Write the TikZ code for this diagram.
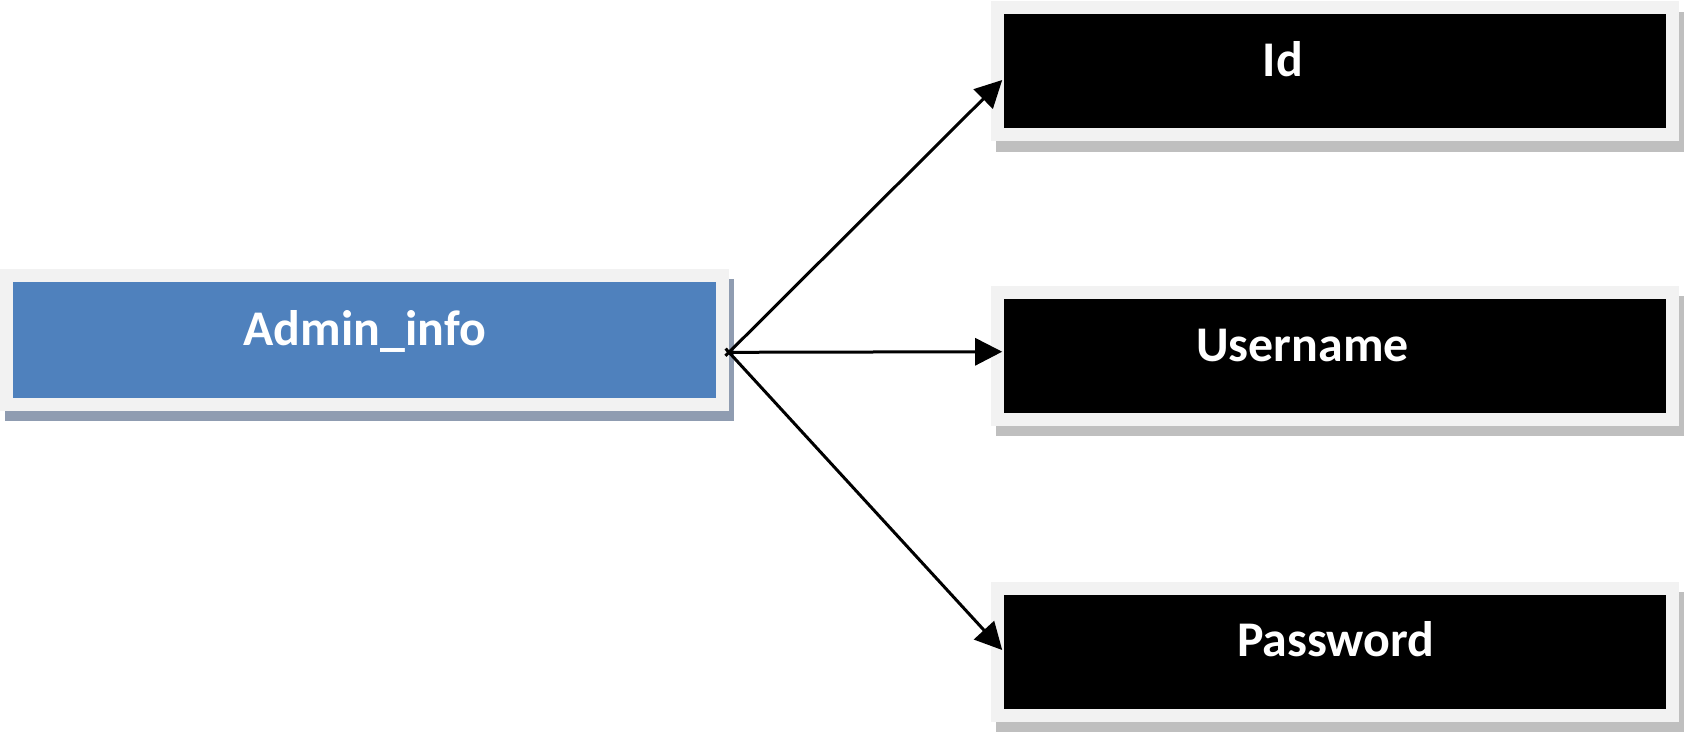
\documentclass[tikz,border=0pt]{standalone}
\usepackage{fontspec}
\setmainfont{Carlito}
\usepackage{tikz}
\usetikzlibrary{arrows.meta,positioning}
\definecolor{admblue}{RGB}{79,129,189}
\definecolor{framegray}{RGB}{242,242,242}
\definecolor{admshadow}{RGB}{143,156,177}
\definecolor{fldshadow}{RGB}{191,191,191}

\begin{document}
\begin{tikzpicture}[
    shd/.style={preaction={draw=#1, fill=#1, transform canvas={shift={(0.054,-0.107)}}}},
    frm/.style={rectangle, draw=framegray, line width=0.13cm, inner sep=0pt},
    adm/.style={frm, fill=admblue, shd=admshadow, minimum width=7.16cm, minimum height=1.29cm},
    fld/.style={frm, fill=black, shd=fldshadow, minimum width=6.75cm, minimum height=1.27cm},
    txt/.style={text=white, font=\fontsize{14.2}{16}\selectfont\bfseries, anchor=base, inner sep=0pt},
    conn/.style={line width=0.03cm, -{Triangle[length=2.7mm, width=2.7mm]}},
    >=Stealth
]
\useasboundingbox (0,0) rectangle (16.85,-7.32);

% boxes
\node[adm] (Admin) at (3.645, -3.396) {};
\foreach \n/\y in {Id/-0.71, Username/-3.555, Password/-6.515}
    \node[fld] (\n) at (13.345, \y) {};

% labels
\node[txt] (AdminTxt)    at (3.647, -3.45)   {Admin\_info};
\node[txt] (IdTxt)       at (12.83, -0.767)  {Id};
\node[txt] (UsernameTxt) at (13.025, -3.617) {Username};
\node[txt] (PasswordTxt) at (13.358, -6.567) {Password};

% connections admin -> fields
\coordinate (src) at ([yshift=-1.27mm]Admin.east);
\draw[conn, shorten <=-0.5mm] (src) -- ([shift={(0.117,-0.09)}]Id.west);
\draw[conn] (src) -- ([shift={(0.117,0.038)}]Username.west);
\draw[conn, shorten <=-0.5mm] (src) -- ([shift={(0.117,0.015)}]Password.west);
\end{tikzpicture}
\end{document}
